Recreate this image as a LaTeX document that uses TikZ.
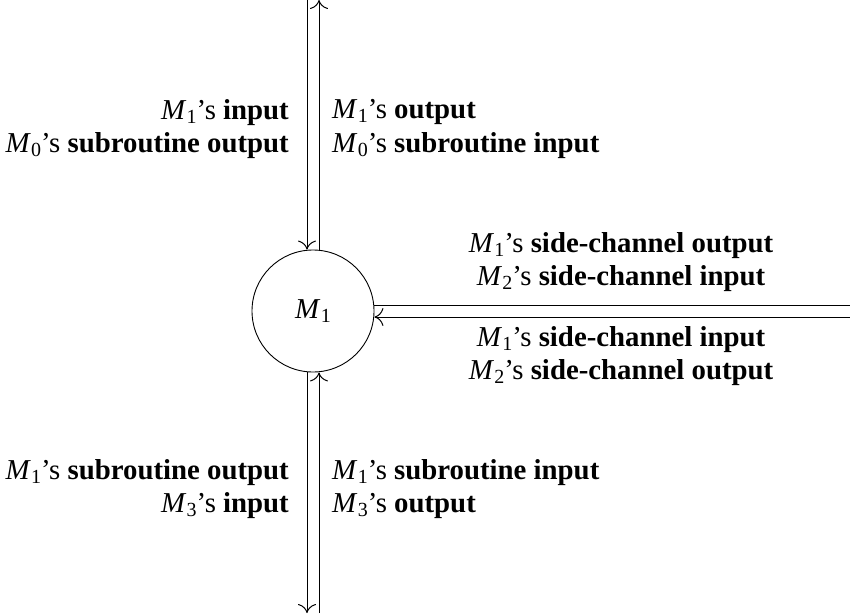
\documentclass[tikz,border=0pt]{standalone}
\usepackage{fontspec}
\setmainfont{Liberation Serif}
\usetikzlibrary{arrows.meta}
\newcommand\Mi[1]{\textit{M}\kern0.3pt\raisebox{-0.3ex}{\fontsize{20}{20}\selectfont #1}}
\begin{document}
\begin{tikzpicture}[x=1pt,y=-1pt,
  lbl/.style={inner sep=0pt, font=\fontsize{28.8}{33.6}\selectfont},
  chan/.style={line width=1pt},
  tip/.style={-{Computer Modern Rightarrow[length=9pt,width=18pt,line width=1pt]}}]
\useasboundingbox (0,0) rectangle (850,613);
\node[circle,draw,line width=0.9pt,minimum size=122pt,inner sep=0pt,font=\fontsize{28.8}{33.6}\selectfont] (m) at (313,311) {\Mi{1}};
\coordinate (tA) at (307,0);
\coordinate (tB) at (319,0);
\coordinate (bA) at (307,613);
\coordinate (bB) at (319,613);
\coordinate (rA) at (850,305);
\coordinate (rB) at (850,317);
\draw[chan,tip] (tA) -- (tA |- m.north);
\draw[chan,tip] (tB |- m.north) -- (tB);
\draw[chan,tip] (bA |- m.south) -- (bA);
\draw[chan,tip] (bB) -- (bB |- m.south);
\draw[chan] (rA -| m.east) -- (rA);
\draw[chan,tip] (rB) -- (rB -| m.east);
\node[lbl,align=right,anchor=east] (tl) at (289,129) {\Mi{1}’s \textbf{input}\\\Mi{0}’s \textbf{subroutine output}};
\node[lbl,align=left,anchor=west] (tr) at (332,129) {\Mi{1}’s \textbf{output}\\\Mi{0}’s \textbf{subroutine input}};
\node[lbl,align=right,anchor=east] (bl) at (289,489) {\Mi{1}’s \textbf{subroutine output}\\\Mi{3}’s \textbf{input}};
\node[lbl,align=left,anchor=west] (br) at (332,489) {\Mi{1}’s \textbf{subroutine input}\\\Mi{3}’s \textbf{output}};
\node[lbl,align=center] (ru) at (621,262) {\Mi{1}’s \textbf{side-channel output}\\\Mi{2}’s \textbf{side-channel input}};
\node[lbl,align=center] (rl) at (621,356) {\Mi{1}’s \textbf{side-channel input}\\\Mi{2}’s \textbf{side-channel output}};
\end{tikzpicture}
\end{document}
